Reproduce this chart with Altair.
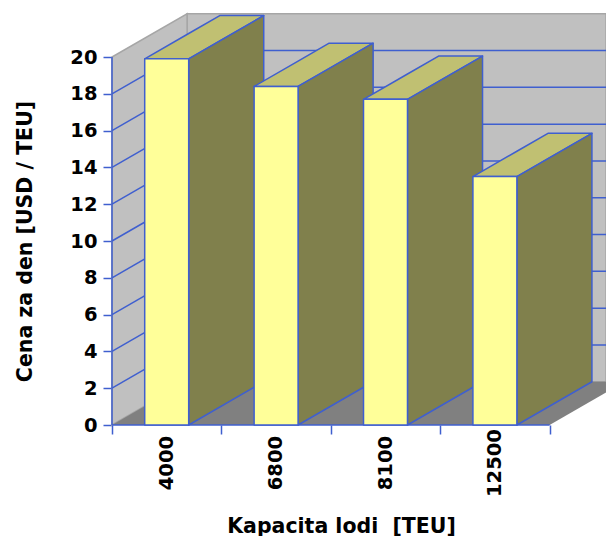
import altair as alt
import pandas as pd

categories = ["4000", "6800", "8100", "12500"]
values = [19.9, 18.4, 17.7, 13.5]
y_ticks = [0, 2, 4, 6, 8, 10, 12, 14, 16, 18, 20]
grid_levels = [2, 4, 6, 8, 10, 12, 14, 16, 18]

BLUE = "#3f5fcf"
FRONT = "#ffff99"
SIDE = "#80804c"
TOP = "#c0c072"
WALL = "#c0c0c0"
FLOOR = "#808080"
EDGE = "#a6a6a6"
FONT = "DejaVu Sans"
FS = 19.5
TS = 20.5

# 3-D geometry, in axis units
DX = 0.686
DY = 2.35
BAR = 0.402
XMAX = 494 / 109.4
YMAX = 412 / 18.4
YTOP = 20 + DY

xs = alt.Scale(domain=[0, XMAX], nice=False, zero=False)
ys = alt.Scale(domain=[0, YMAX], nice=False, zero=False)

x_axis = alt.Axis(
    values=[0, 1, 2, 3, 4], labels=False, domain=False, grid=False, tickSize=9,
    tickColor=BLUE, tickWidth=1.5, titleFont=FONT, titleFontSize=TS, titleFontWeight="bold",
    titleColor="#000000", titleX=229, titleY=107, titleBaseline="alphabetic")
y_axis = alt.Axis(
    values=y_ticks, domain=False, grid=False, tickSize=9, tickColor=BLUE, tickWidth=1.5,
    labelFont=FONT, labelFontSize=FS, labelFontWeight="bold", labelColor="#000000", labelPadding=6,
    titleFont=FONT, titleFontSize=TS, titleFontWeight="bold", titleColor="#000000",
    titleX=-87, titleY=228, titleBaseline="middle")
X_TITLE = "Kapacita lodi \u00a0[TEU]"
Y_TITLE = "Cena za den [USD / TEU]"


def X():
    return alt.X("x:Q", scale=xs, axis=x_axis, title=X_TITLE)


def Y():
    return alt.Y("y:Q", scale=ys, axis=y_axis, title=Y_TITLE)


def Y2():
    return alt.Y2("y2:Q")


def X2():
    return alt.X2("x2:Q")


def area(rows, fill, **mark):
    return alt.Chart(pd.DataFrame(rows, columns=["x", "y", "y2"])).mark_area(
        fill=fill, orient="vertical", **mark
    ).encode(x=X(), y=Y(), y2=Y2())


layers = []

# back wall, left wall, floor
layers.append(alt.Chart(pd.DataFrame({"x": [DX], "x2": [XMAX], "y": [DY], "y2": [YTOP]})).mark_rect(
    fill=WALL, stroke=EDGE, strokeWidth=1.5, clip=True).encode(x=X(), x2=X2(), y=Y(), y2=Y2()))
layers.append(area([[0, 0, 20], [DX, DY, YTOP]], WALL, stroke=EDGE, strokeWidth=1.5))
floor_rows = [[0, 0, 0], [DX, DY, 0], [4, DY, 0], [4 + DX, DY, DY]]
layers.append(area(floor_rows, FLOOR, clip=True))

# wall gridlines
layers.append(alt.Chart(pd.DataFrame({"x": [DX] * len(grid_levels), "x2": [XMAX] * len(grid_levels),
                                      "y": [g + DY for g in grid_levels]})).mark_rule(
    color=BLUE, strokeWidth=1.5).encode(x=X(), x2=X2(), y=Y()))
slant = pd.DataFrame([{"x": x, "y": g + d, "g": g} for g in grid_levels for x, d in [(0, 0), (DX, DY)]])
layers.append(alt.Chart(slant).mark_line(color=BLUE, strokeWidth=1.5).encode(x=X(), y=Y(), detail="g:N"))

# axis lines
layers.append(alt.Chart(pd.DataFrame({"x": [0], "y": [0], "y2": [20]})).mark_rule(
    color=BLUE, strokeWidth=1.5).encode(x=X(), y=Y(), y2=Y2()))
layers.append(alt.Chart(pd.DataFrame({"x": [0], "x2": [4], "y": [0]})).mark_rule(
    color=BLUE, strokeWidth=1.5).encode(x=X(), x2=X2(), y=Y()))

# bars, back to front
edge = dict(stroke=BLUE, strokeWidth=1.5, strokeJoin="round")
for i, v in enumerate(values):
    l = i + 0.5 - BAR / 2
    r = l + BAR
    # top face: lower edge flat then rising, upper edge rising then flat
    f = BAR / DX
    top_rows = [
        [l, v, v],
        [r, v + DY * f, v],
        [l + DX, v + DY, v + DY * (DX - BAR) / DX],
        [r + DX, v + DY, v + DY],
    ]
    layers.append(area(top_rows, TOP, **edge))
    layers.append(area([[r, 0, v], [r + DX, DY, v + DY]], SIDE, **edge))
    layers.append(alt.Chart(pd.DataFrame({"x": [l], "x2": [r], "y": [0], "y2": [v]})).mark_rect(
        fill=FRONT, **edge).encode(x=X(), x2=X2(), y=Y(), y2=Y2()))

# category labels
lab = pd.DataFrame({"x": [i + 0.5 for i in range(4)], "y": [-2.07] * 4, "t": categories})
layers.append(alt.Chart(lab).mark_text(
    angle=270, align="center", baseline="middle", font=FONT, fontSize=FS, fontWeight="bold", color="#000000"
).encode(x=X(), y=Y(), text="t:N"))

chart = alt.layer(*layers).properties(
    width=494, height=412,
    padding={"left": 104, "top": 5, "right": 0, "bottom": 111},
    autosize=alt.AutoSizeParams(type="none"),
    background="#ffffff",
).configure_view(stroke=None)

chart.save("out.html", embed_options={"renderer": "svg", "actions": False})
